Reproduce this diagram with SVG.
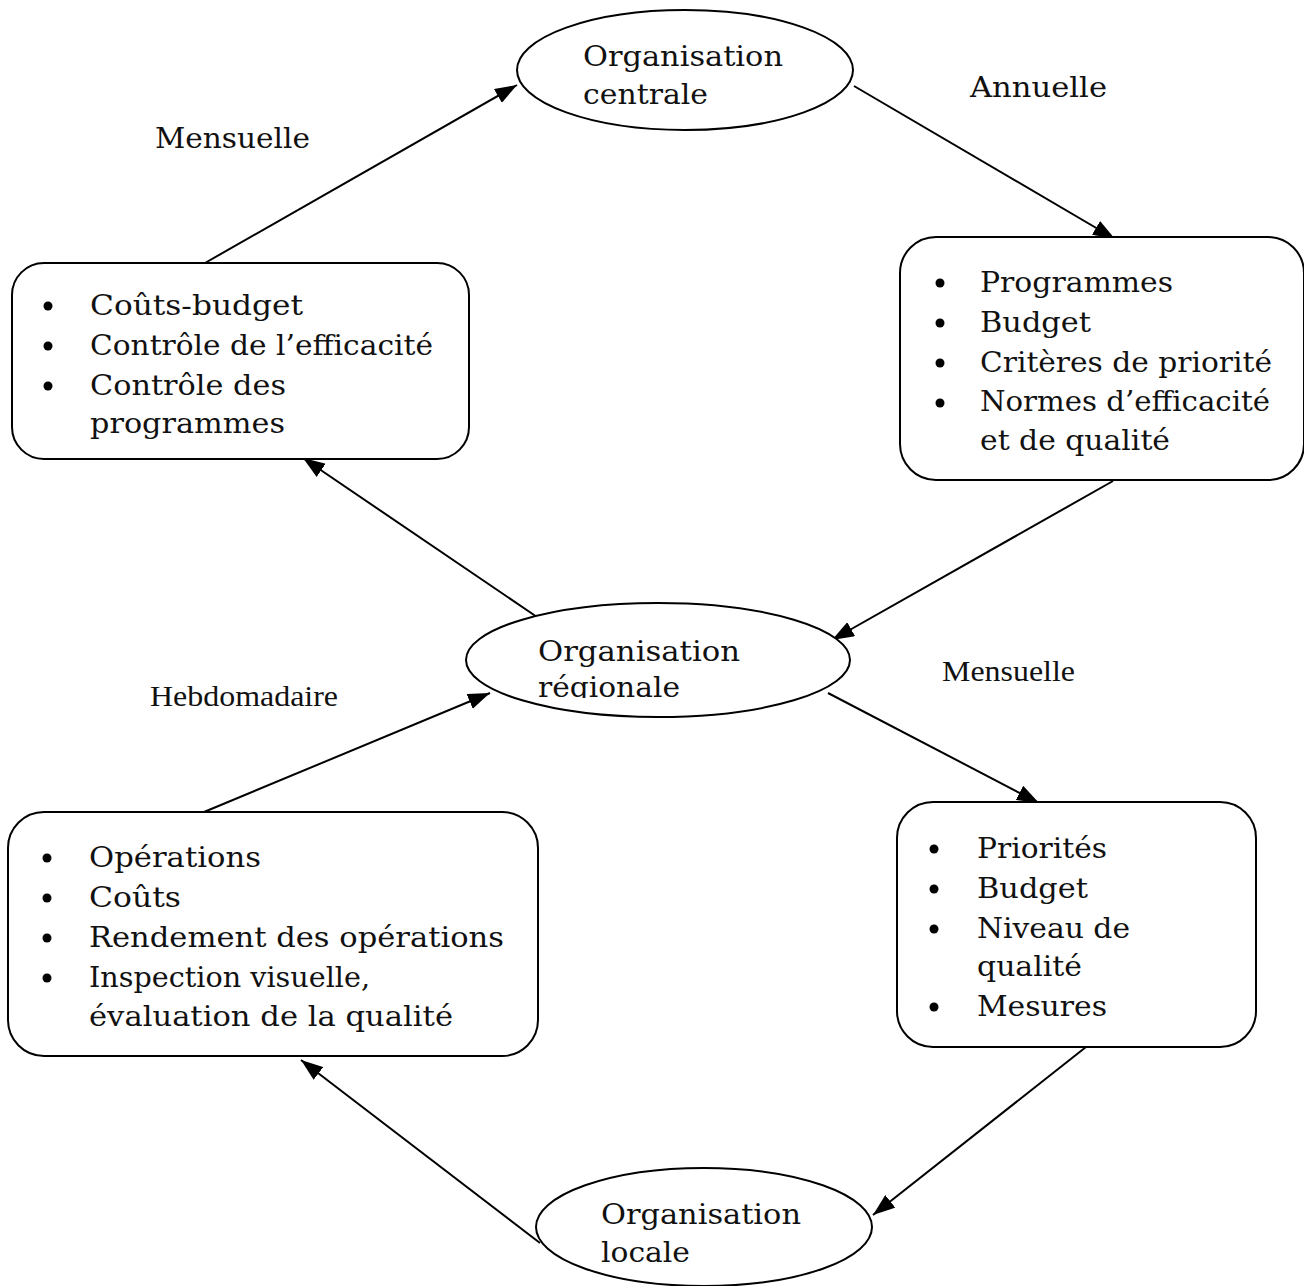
<svg xmlns="http://www.w3.org/2000/svg" width="1304" height="1286" viewBox="0 0 1304 1286">
  <style>
    .shape { fill: #fff; stroke: #000; stroke-width: 2; }
    .link { fill: none; stroke: #000; stroke-width: 2; }
    .bk { font-family: "DejaVu Serif", "Liberation Serif", serif; font-size: 27px; fill: #111; }
    .tm { font-family: "Liberation Serif", "Times New Roman", serif; font-size: 29px; fill: #111; }
    .dot { fill: #000; }
  </style>
  <defs>
    <marker id="arrow" viewBox="0 0 22 16" refX="22" refY="8" markerWidth="22" markerHeight="16" markerUnits="userSpaceOnUse" orient="auto">
      <path d="M0,0 L22,8 L0,16 Z" fill="#000"/>
    </marker>
    <clipPath id="clipReg">
      <rect x="460" y="600" width="400" height="98"/>
    </clipPath>
  </defs>
  <rect width="1304" height="1286" fill="#fff"/>

  <!-- connectors -->
  <g id="connectors">
    <line class="link" x1="205" y1="263" x2="517" y2="85" marker-end="url(#arrow)"/>
    <line class="link" x1="854" y1="86" x2="1115" y2="239" marker-end="url(#arrow)"/>
    <line class="link" x1="1113" y1="481" x2="832" y2="640" marker-end="url(#arrow)"/>
    <line class="link" x1="537" y1="617" x2="303" y2="458" marker-end="url(#arrow)"/>
    <line class="link" x1="204" y1="812" x2="490" y2="693" marker-end="url(#arrow)"/>
    <line class="link" x1="828" y1="693" x2="1039" y2="803" marker-end="url(#arrow)"/>
    <line class="link" x1="1086" y1="1047" x2="873" y2="1215" marker-end="url(#arrow)"/>
    <line class="link" x1="540" y1="1243" x2="301" y2="1060" marker-end="url(#arrow)"/>
  </g>

  <!-- frequency labels -->
  <g id="labels">
    <text class="bk" x="155" y="148" font-size="24" textLength="155" lengthAdjust="spacingAndGlyphs">Mensuelle</text>
    <text class="bk" x="970" y="97" font-size="24" textLength="137" lengthAdjust="spacingAndGlyphs">Annuelle</text>
    <text class="tm" x="942" y="681" textLength="133" lengthAdjust="spacingAndGlyphs">Mensuelle</text>
    <text class="tm" x="150" y="706" textLength="188" lengthAdjust="spacingAndGlyphs">Hebdomadaire</text>
  </g>

  <!-- central organisation -->
  <g id="org-centrale">
    <ellipse class="shape" cx="685" cy="70" rx="168" ry="60"/>
    <text class="bk" x="583" y="66" textLength="200" lengthAdjust="spacingAndGlyphs">Organisation</text>
    <text class="bk" x="583" y="104" textLength="125" lengthAdjust="spacingAndGlyphs">centrale</text>
  </g>

  <!-- regional organisation -->
  <g id="org-regionale">
    <ellipse class="shape" cx="658" cy="660" rx="192" ry="57"/>
    <text class="bk" x="538" y="661" textLength="202" lengthAdjust="spacingAndGlyphs">Organisation</text>
    <text class="bk" x="538" y="697" textLength="142" lengthAdjust="spacingAndGlyphs" clip-path="url(#clipReg)">régionale</text>
  </g>

  <!-- local organisation -->
  <g id="org-locale">
    <ellipse class="shape" cx="704" cy="1227" rx="168" ry="59"/>
    <text class="bk" x="601" y="1224" textLength="200" lengthAdjust="spacingAndGlyphs">Organisation</text>
    <text class="bk" x="601" y="1262" textLength="89" lengthAdjust="spacingAndGlyphs">locale</text>
  </g>

  <!-- monthly report up to central -->
  <g id="box-controle">
    <rect class="shape" x="12" y="263" width="457" height="196" rx="32"/>
    <circle class="dot" cx="48" cy="306" r="4.5"/>
    <circle class="dot" cx="48" cy="346" r="4.5"/>
    <circle class="dot" cx="48" cy="386" r="4.5"/>
    <text class="bk" x="90" y="315" textLength="213" lengthAdjust="spacingAndGlyphs">Coûts-budget</text>
    <text class="bk" x="90" y="355" textLength="343" lengthAdjust="spacingAndGlyphs">Contrôle de l’efficacité</text>
    <text class="bk" x="90" y="395" textLength="196" lengthAdjust="spacingAndGlyphs">Contrôle des</text>
    <text class="bk" x="90" y="433" textLength="195" lengthAdjust="spacingAndGlyphs">programmes</text>
  </g>

  <!-- annual directives from central -->
  <g id="box-programmes">
    <rect class="shape" x="900" y="237" width="404" height="243" rx="36"/>
    <circle class="dot" cx="940" cy="283" r="4.5"/>
    <circle class="dot" cx="940" cy="323" r="4.5"/>
    <circle class="dot" cx="940" cy="363" r="4.5"/>
    <circle class="dot" cx="940" cy="403" r="4.5"/>
    <text class="bk" x="980" y="292" textLength="193" lengthAdjust="spacingAndGlyphs">Programmes</text>
    <text class="bk" x="980" y="332" textLength="111" lengthAdjust="spacingAndGlyphs">Budget</text>
    <text class="bk" x="980" y="372" textLength="292" lengthAdjust="spacingAndGlyphs">Critères de priorité</text>
    <text class="bk" x="980" y="411" textLength="290" lengthAdjust="spacingAndGlyphs">Normes d’efficacité</text>
    <text class="bk" x="980" y="450" textLength="190" lengthAdjust="spacingAndGlyphs">et de qualité</text>
  </g>

  <!-- weekly report up to regional -->
  <g id="box-operations">
    <rect class="shape" x="8" y="812" width="530" height="244" rx="36"/>
    <circle class="dot" cx="47" cy="858" r="4.5"/>
    <circle class="dot" cx="47" cy="898" r="4.5"/>
    <circle class="dot" cx="47" cy="938" r="4.5"/>
    <circle class="dot" cx="47" cy="978" r="4.5"/>
    <text class="bk" x="89" y="867" textLength="172" lengthAdjust="spacingAndGlyphs">Opérations</text>
    <text class="bk" x="89" y="907" textLength="92" lengthAdjust="spacingAndGlyphs">Coûts</text>
    <text class="bk" x="89" y="947" textLength="415" lengthAdjust="spacingAndGlyphs">Rendement des opérations</text>
    <text class="bk" x="89" y="987" textLength="281" lengthAdjust="spacingAndGlyphs">Inspection visuelle,</text>
    <text class="bk" x="89" y="1026" textLength="364" lengthAdjust="spacingAndGlyphs">évaluation de la qualité</text>
  </g>

  <!-- monthly directives to local -->
  <g id="box-priorites">
    <rect class="shape" x="897" y="802" width="359" height="245" rx="36"/>
    <circle class="dot" cx="934" cy="849" r="4.5"/>
    <circle class="dot" cx="934" cy="889" r="4.5"/>
    <circle class="dot" cx="934" cy="929" r="4.5"/>
    <circle class="dot" cx="934" cy="1007" r="4.5"/>
    <text class="bk" x="977" y="858" textLength="130" lengthAdjust="spacingAndGlyphs">Priorités</text>
    <text class="bk" x="977" y="898" textLength="111" lengthAdjust="spacingAndGlyphs">Budget</text>
    <text class="bk" x="977" y="938" textLength="153" lengthAdjust="spacingAndGlyphs">Niveau de</text>
    <text class="bk" x="977" y="976" textLength="105" lengthAdjust="spacingAndGlyphs">qualité</text>
    <text class="bk" x="977" y="1016" textLength="130" lengthAdjust="spacingAndGlyphs">Mesures</text>
  </g>
</svg>
